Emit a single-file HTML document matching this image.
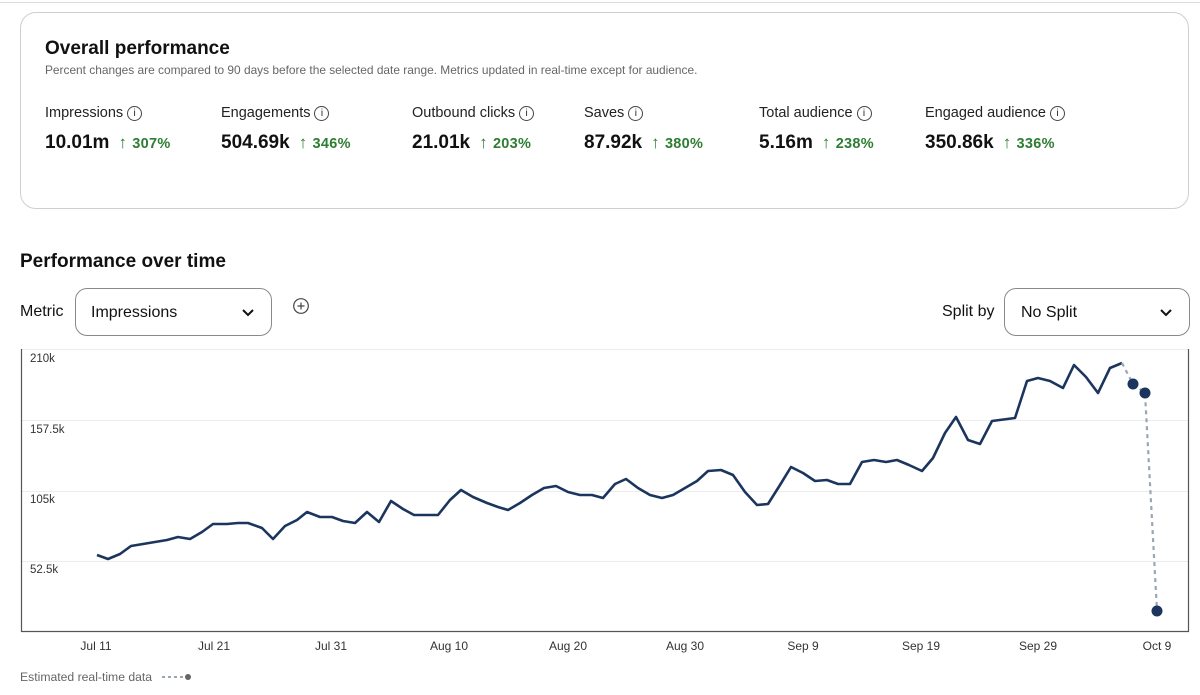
<!DOCTYPE html>
<html><head><meta charset="utf-8"><style>
body{margin:0;width:1200px;height:695px;background:#fff;font-family:"Liberation Sans",sans-serif;color:#111;position:relative;overflow:hidden}
.a{position:absolute;white-space:nowrap}
.card{position:absolute;left:20px;top:12px;width:1167px;height:195px;border:1px solid #cfcfcf;border-radius:16px}
.lab{font-size:14.5px;color:#222}
.val{font-size:19px;font-weight:bold}
.pct{font-size:14.5px;font-weight:bold;color:#2e7d32;margin-left:9px;letter-spacing:0.3px}
.pct b{font-weight:normal;font-size:17px;margin-right:5px}
.i{display:inline-block;width:13px;height:13px;border:1.2px solid #444;border-radius:50%;font-size:10px;text-align:center;line-height:13px;vertical-align:1px;margin-left:4px}
.dd{position:absolute;border:1px solid #8a8a8a;border-radius:12px;font-size:16px;box-sizing:border-box}
</style></head><body>
<div class="a" style="left:0;top:2px;width:1200px;height:1px;background:#ddd"></div>
<div class="card"></div>
<div class="a" style="left:45px;top:38px;font-size:19px;font-weight:bold">Overall performance</div>
<div class="a" style="left:45px;top:63px;font-size:11.9px;color:#666">Percent changes are compared to 90 days before the selected date range. Metrics updated in real-time except for audience.</div>

<div class="a lab" style="left:45px;top:105px">Impressions<span class="i">i</span></div>
<div class="a" style="left:45px;top:132px"><span class="val">10.01m</span><span class="pct"><b>↑</b>307%</span></div>
<div class="a lab" style="left:221px;top:105px">Engagements<span class="i">i</span></div>
<div class="a" style="left:221px;top:132px"><span class="val">504.69k</span><span class="pct"><b>↑</b>346%</span></div>
<div class="a lab" style="left:412px;top:105px">Outbound clicks<span class="i">i</span></div>
<div class="a" style="left:412px;top:132px"><span class="val">21.01k</span><span class="pct"><b>↑</b>203%</span></div>
<div class="a lab" style="left:584px;top:105px">Saves<span class="i">i</span></div>
<div class="a" style="left:584px;top:132px"><span class="val">87.92k</span><span class="pct"><b>↑</b>380%</span></div>
<div class="a lab" style="left:759px;top:105px">Total audience<span class="i">i</span></div>
<div class="a" style="left:759px;top:132px"><span class="val">5.16m</span><span class="pct"><b>↑</b>238%</span></div>
<div class="a lab" style="left:925px;top:105px">Engaged audience<span class="i">i</span></div>
<div class="a" style="left:925px;top:132px"><span class="val">350.86k</span><span class="pct"><b>↑</b>336%</span></div>

<div class="a" style="left:20px;top:251px;font-size:19px;font-weight:bold">Performance over time</div>
<div class="a" style="left:20px;top:303px;font-size:16px">Metric</div>
<div class="dd" style="left:75px;top:288px;width:197px;height:48px;padding:15px 0 0 15px">Impressions<svg style="position:absolute;left:166px;top:20px" width="12" height="8"><path d="M1 1l5 5 5-5" stroke="#111" stroke-width="2" fill="none"/></svg></div>
<svg class="a" style="left:292px;top:297px" width="18" height="18"><circle cx="9" cy="9" r="7.3" stroke="#444" stroke-width="1.2" fill="none"/><path d="M9 5.5v7M5.5 9h7" stroke="#444" stroke-width="1.2"/></svg>
<div class="a" style="left:942px;top:303px;font-size:16px">Split by</div>
<div class="dd" style="left:1004px;top:288px;width:186px;height:48px;padding:15px 0 0 16px">No Split<svg style="position:absolute;left:155px;top:20px" width="12" height="8"><path d="M1 1l5 5 5-5" stroke="#111" stroke-width="2" fill="none"/></svg></div>

<svg class="a" style="left:0;top:0" width="1200" height="695">
<g stroke="#ececec" stroke-width="1"><line x1="21" y1="349.5" x2="1188" y2="349.5"/><line x1="21" y1="420.5" x2="1188" y2="420.5"/><line x1="21" y1="491.5" x2="1188" y2="491.5"/><line x1="21" y1="561.5" x2="1188" y2="561.5"/></g>
<path d="M21.5 349V631.5H1188.5V349" stroke="#555" stroke-width="1.2" fill="none"/>
<g font-family="Liberation Sans" font-size="11.5" fill="#333"><text x="30" y="362">210k</text><text x="30" y="433">157.5k</text><text x="30" y="503">105k</text><text x="30" y="573">52.5k</text></g>
<g font-family="Liberation Sans" font-size="12" fill="#333" text-anchor="middle"><text x="96" y="650">Jul 11</text><text x="214" y="650">Jul 21</text><text x="331" y="650">Jul 31</text><text x="449" y="650">Aug 10</text><text x="568" y="650">Aug 20</text><text x="685" y="650">Aug 30</text><text x="803" y="650">Sep 9</text><text x="921" y="650">Sep 19</text><text x="1038" y="650">Sep 29</text><text x="1157" y="650">Oct 9</text></g>
<polyline fill="none" stroke="#1c355e" stroke-width="2.6" stroke-linejoin="round" points="97,555 108,559 120,554 131,546 143,544 155,542 167,540 178,537 190,539 202,532 213,524 227,524 238,523 248,523 262,528 273,539 285,526 297,520 307,512 320,517 332,517 343,521 355,523 367,512 379,522 391,501 403,509 414,515 427,515 438,515 450,500 461,490 473,497 487,503 498,507 508,510 520,503 532,495 544,488 556,486 568,492 580,495 592,495 603,498 615,484 626,479 638,488 650,495 662,498 673,495 685,488 697,481 708,471 721,470 733,475 745,492 757,505 768,504 780,485 791,467 803,473 815,481 827,480 838,484 850,484 862,462 874,460 886,462 897,460 909,465 922,471 933,458 945,433 956,417 968,440 980,444 992,421 1015,418 1027,381 1038,378 1050,381 1063,388 1074,365 1086,377 1098,393 1110,368 1122,363"/>
<polyline fill="none" stroke="#9aa6b6" stroke-width="2.2" stroke-dasharray="4,4" points="1122,363 1133,384 1145,393 1157,611"/>
<g fill="#1c355e"><circle cx="1133" cy="384" r="5.5"/><circle cx="1145" cy="393" r="5.5"/><circle cx="1157" cy="611" r="5.5"/></g>
<text x="20" y="681" font-family="Liberation Sans" font-size="12.2" fill="#666">Estimated real-time data</text>
<line x1="162" y1="677" x2="184" y2="677" stroke="#9aa6b6" stroke-width="2" stroke-dasharray="3,3"/>
<circle cx="188" cy="677" r="3" fill="#666"/>
</svg>
</body></html>
